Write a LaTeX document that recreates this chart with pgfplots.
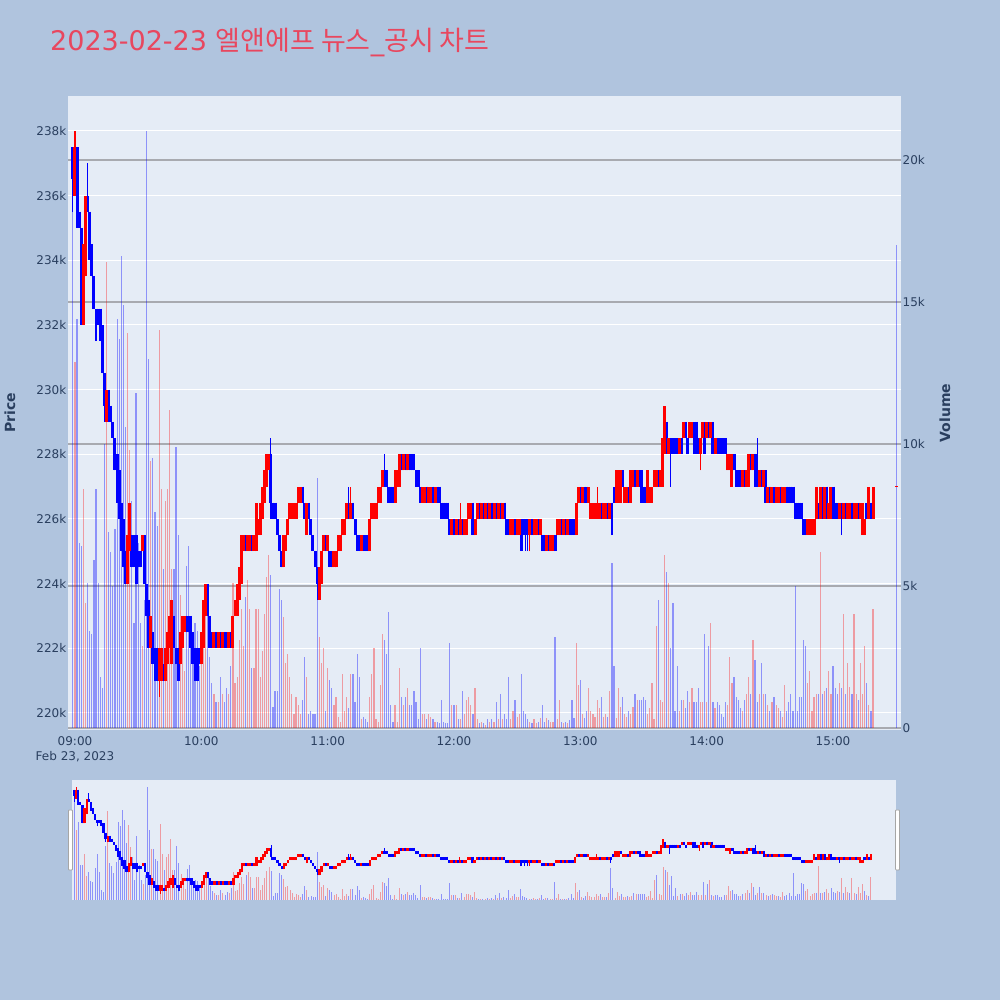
\documentclass[border=0pt]{standalone}
\usepackage{fontspec}
\setmainfont{DejaVu Sans}
\newfontfamily\kr{Noto Sans CJK KR}
\usepackage{pgfplots}
\pgfplotsset{compat=1.18}
\usepackage{pgfplotstable}
\definecolor{pagebg}{HTML}{B0C4DE}
\definecolor{plotbg}{HTML}{E5ECF6}
\definecolor{tickc}{HTML}{2A3F5F}
\definecolor{titlec}{HTML}{E8475F}
\definecolor{vgrid}{RGB}{168,170,176}
\definecolor{upc}{HTML}{FF0000}
\definecolor{dnc}{HTML}{0000FF}

\pgfplotstableread{
m o h l c v
-1 237.5 237.5 235.5 236.5 18.2
0 236 238 236 237.5 12.9
1 237.5 237.5 235 235 14.4
2 235.5 235.5 235 235 6.5
3 235 235 232 232 6.4
4 232 234.5 232 234.5 8.4
5 233.5 236 233.5 236 4.4
6 236 237 235.5 235.5 5.1
7 235.5 235.5 234 234 3.4
8 234.5 234.5 233.5 233.5 3.3
9 233.5 233.5 232.5 232.5 5.9
10 232.5 232.5 231.5 232 8.4
11 232.5 232.5 232 232 5.1
12 232.5 232.5 231.5 231.5 1.8
13 232 232 230.5 230.5 1.4
14 230.5 230.5 229 229.5 10
15 229 230 229 230 16.4
16 230 230 229 229 6.9
17 229.5 229.5 229 229 6.2
18 229 229 228.5 228.5 5
19 228.5 228.5 227.5 227.5 7
20 228 228 226.5 226.5 14.4
21 227.5 227.5 226 226 13.7
22 226.5 226.5 225 225 16.6
23 226 226 224.5 224.5 14.9
24 225 225 224 224 10.6
25 224 225.5 224 225.5 13.9
26 225 226.5 225 226.5 9.8
27 225.5 225.5 224.5 224.5 8
28 225.5 225.5 224.5 224.5 3.7
29 225.5 225.5 224 224 11.8
30 225 225 224.5 224.5 6.5
31 225 225 224.5 224.5 3.7
32 225 225.5 225 225.5 2.9
33 225.5 225.5 224 224 4.5
34 224 224 223 223 21
35 223.5 223.5 222 222 13
36 222 223 222 223 9.4
37 222.5 222.5 221.5 221.5 9.5
38 222 222 221 221 7.6
39 222 222 221 221 7.1
40 221 222 220.5 222 14
41 221 222 221 222 8.4
42 221.5 221.5 221 221 5.6
43 221 222 221 222 8
44 221.5 222.5 221.5 222.5 8.4
45 222 223 222 223 11.2
46 221.5 223.5 221.5 223.5 5.6
47 223 223 222 222 5.6
48 222 222 221.5 221.5 9.9
49 222 222 221 221 6.8
50 221.5 222.5 221.5 222.5 4.7
51 222 223 222 223 3.7
52 222.5 223 222.5 223 2
53 223 223 222.5 222.5 5.7
54 223 223 222.5 222.5 6.4
55 223 223 222 222 3.3
56 222.5 222.5 221.5 221.5 2.7
57 222 222 221 221 3.7
58 222 222 221 221 3.4
59 222 222 221.5 221.5 2.2
60 221.5 222.5 221.5 222.5 3
61 222 223.5 222 223.5 4.2
62 223 224 223 224 4.9
63 224 224 223 223 4.4
64 223 223 222 222 2.5
65 222.5 222.5 222 222 1.6
66 222 222.5 222 222.5 1.2
67 222.5 222.5 222 222 0.9
68 222 222.5 222 222.5 0.9
69 222.5 222.5 222 222 1.8
70 222 222.5 222 222.5 1.2
71 222.5 222.5 222 222 0.9
72 222.5 222.5 222 222 1.4
73 222 222.5 222 222.5 1.2
74 222.5 222.5 222 222 2.2
75 222 223 222 223 5.1
76 223 223.5 223 223.5 1.6
77 223 224 223 224 1.8
78 223.5 224.5 223.5 224.5 3.1
79 224 225.5 224 225.5 4.2
80 225 225.5 225 225.5 2.9
81 225.5 225.5 225 225 4.6
82 225 225.5 225 225.5 5.2
83 225 225.5 225 225.5 4.2
84 225.5 225.5 225 225 2.1
85 225 225.5 225 225.5 2.1
86 225 226.5 225 226.5 4.2
87 225.5 226 225.5 226 4.2
88 225.5 226.5 225.5 226.5 1.8
89 226 227 226 227 2.7
90 226.5 227.5 226.5 227.5 4
91 227 228 227 228 5.3
92 227.5 228 227.5 228 6.1
93 228 228.5 226 226.5 5.4
94 226.5 226.5 226 226 0.75
95 226.5 226.5 226 226 1.3
96 226 226 225.5 225.5 1.3
97 225.5 225.5 225 225 4.9
98 225 225 224.5 224.5 4.5
99 224.5 225.5 224.5 225.5 3.9
100 225 225.5 225 225.5 2.3
101 225.5 226 225.5 226 2.6
102 226 226.5 226 226.5 1.8
103 226 226.5 226 226.5 1.2
104 226 226.5 226 226.5 0.5
105 226 226.5 226 226.5 1.1
106 226.5 227 226.5 227 0.8
107 226.5 227 226.5 227 0.5
108 227 227 226.5 226.5 1
109 226.5 226.5 226 226 2.5
110 225.5 226.5 225.5 226.5 1.8
111 226.5 226.5 226 226 0.5
112 226 226 225.5 225.5 0.6
113 225.5 225.5 225 225 0.5
114 225 225 224.5 224.5 0.5
115 224.5 224.5 223.5 224 8.8
116 223.5 224.5 223.5 224.5 3.2
117 224 225 224 225 2.3
118 225 225.5 225 225.5 2.8
119 225.5 225.5 225 225 0.6
120 225 225.5 225 225.5 2.1
121 225 225 224.5 224.5 1.7
122 225 225 224.5 224.5 1.4
123 224.5 225 224.5 225 0.8
124 224.5 225 224.5 225 1.1
125 225 225.5 225 225.5 0.4
126 225 225.5 225 225.5 0.2
127 225.5 226 225.5 226 1.9
128 225.5 226 225.5 226 0.6
129 226 226.5 226 226.5 1.1
130 226.5 227 226 226 0.7
131 226 227 226 226.5 1.9
132 226.5 226.5 226 226 1.9
133 226 226 225.5 225.5 0.9
134 225.5 225.5 225 225 2.6
135 225.5 225.5 225 225 1.8
136 225 225.5 225 225.5 0.3
137 225.5 225.5 225 225 0.4
138 225.5 225.5 225 225 0.3
139 225.5 225.5 225 225 0.2
140 225 226 225 226 1.1
141 226 226.5 226 226.5 1.9
142 226 226.5 226 226.5 2.8
143 226 226.5 226 226.5 0.3
144 226.5 227 226.5 227 0.2
145 226.5 227 226.5 227 1.5
146 227 227.5 227 227.5 3.3
147 227.5 228 227 227 3.1
148 227.5 227.5 227 227 2.6
149 227 227 226.5 226.5 4.1
150 227 227 226.5 226.5 0.8
151 227 227 226.5 226.5 0.2
152 226.5 227.5 226.5 227.5 0.8
153 227 227.5 227 227.5 0.2
154 227 228 227 228 2.1
155 228 228 227.5 227.5 1.1
156 227.5 228 227.5 228 0.8
157 228 228 227.5 227.5 1.1
158 227.5 228 227.5 228 1.4
159 228 228 227.5 227.5 0.8
160 228 228 227.5 227.5 0.8
161 228 228 227.5 227.5 1.3
162 227.5 227.5 227 227 0.9
163 227.5 227.5 227 227 0.3
164 227 227 226.5 226.5 2.8
165 226.5 227 226.5 227 0.5
166 226.5 227 226.5 227 0.5
167 227 227 226.5 226.5 0.3
168 226.5 227 226.5 227 0.5
169 226.5 227 226.5 227 0.4
170 227 227 226.5 226.5 0.3
171 226.5 227 226.5 227 0.2
172 227 227 226.5 226.5 0.2
173 227 227 226.5 226.5 0.16
174 226.5 226.5 226 226 1
175 226.5 226.5 226 226 0.2
176 226.5 226.5 226 226 0.16
177 226.5 226.5 226 226 0.16
178 226 226 225.5 225.5 3
179 225.5 226 225.5 226 0.8
180 226 226 225.5 225.5 0.8
181 225.5 226 225.5 226 0.8
182 226 226 225.5 225.5 0.3
183 225.5 226.5 225.5 226 0.3
184 226 226 225.5 225.5 1.3
185 225.5 226 225.5 226 0.5
186 225.5 226 225.5 226 1
187 226 226.5 226 226.5 1.1
188 226 226.5 226 226.5 0.8
189 226.5 226.5 225.5 225.5 0.5
190 225.5 226 225.5 226 1.4
191 226 226.5 226 226.5 0.3
192 226.5 226.5 226 226 0.16
193 226 226.5 226 226.5 0.2
194 226.5 226.5 226 226 0.16
195 226 226.5 226 226.5 0.1
196 226.5 226.5 226 226 0.3
197 226 226.5 226 226.5 0.2
198 226.5 226.5 226 226 0.3
199 226 226.5 226 226.5 0.2
200 226.5 226.5 226 226 0.9
201 226 226.5 226 226.5 0.3
202 226.5 226.5 226 226 1.2
203 226 226.5 226 226.5 0.3
204 226.5 226.5 226 226 0.5
205 226 226 225.5 225.5 0.3
206 226 226 225.5 225.5 1.8
207 225.5 226 225.5 226 0.3
208 225.5 226 225.5 226 0.6
209 226 226 225.5 225.5 1
210 225.5 226 225.5 226 0.4
211 225.5 226 225.5 226 0.5
212 226 226 225 225 1.9
213 226 226 225.5 225.5 0.6
214 226 226 225 225.5 0.5
215 226 226 225 225.5 0.3
216 225.5 226 225 226 0.2
217 226 226 225.5 225.5 0.16
218 225.5 226 225.5 226 0.3
219 225.5 226 225.5 226 0.16
220 226 226 225.5 225.5 0.2
221 225.5 226 225.5 226 0.34
222 225.5 225.5 225 225 0.8
223 225.5 225.5 225 225 0.2
224 225 225.5 225 225.5 0.34
225 225.5 225.5 225 225 0.28
226 225 225.5 225 225.5 0.2
227 225 225.5 225 225.5 0.2
228 225.5 225.5 225 225 3.2
229 225.5 226 225.5 226 0.3
230 225.5 226 225.5 226 1
231 226 226 225.5 225.5 0.2
232 225.5 226 225.5 226 0.16
233 226 226 225.5 225.5 0.2
234 225.5 226 225.5 226 0.16
235 226 226 225.5 225.5 0.28
236 226 226 225.5 225.5 1
237 226 226 225.5 225.5 0.34
238 225.5 226.5 225.5 226.5 3
239 226.5 227 226.5 227 1.5
240 227 227 226.5 226.5 1.7
241 226.5 227 226.5 227 0.5
242 227 227 226.5 226.5 0.34
243 227 227 226.5 226.5 0.6
244 226.5 227 226.5 227 1.4
245 226 226.5 226 226.5 0.6
246 226 226.5 226 226.5 0.5
247 226 226.5 226 226.5 0.4
248 226 227 226 226.5 1
249 226 226.5 226 226.5 0.7
250 226.5 226.5 226 226 1.1
251 226 226.5 226 226.5 0.4
252 226 226.5 226 226.5 0.5
253 226.5 226.5 226 226 0.4
254 226 226.5 226 226.5 1.3
255 226.5 226.5 225.5 226 5.8
256 227 227 226.5 226.5 2.2
257 226.5 227.5 226.5 227.5 0.34
258 226.5 227.5 226.5 227.5 1.4
259 226.5 227.5 226.5 227.5 0.75
260 227.5 227.5 227 227 1.1
261 226.5 227 226.5 227 0.5
262 226.5 227 226.5 227 0.4
263 227 227 226.5 226.5 0.6
264 226.5 227.5 226.5 227.5 0.5
265 227 227.5 227 227.5 0.75
266 227.5 227.5 227 227 1.2
267 227 227.5 227 227.5 1
268 227.5 227.5 227 227 1
269 227.5 227.5 226.5 226.5 1
270 227 227 226.5 226.5 1.1
271 227 227 226.5 226.5 1
272 226.5 227.5 226.5 227.5 0.5
273 226.5 227 226.5 227 0.7
274 226.5 227 226.5 227 1.6
275 227 227.5 227 227.5 0.3
276 227 227.5 227 227.5 3.6
277 227.5 227.5 227 227 4.5
278 227 227.5 227 227.5 1
279 227 228.5 227 228.5 0.9
280 228 229.5 228 229.5 6.1
281 229 229 228 228 5.5
282 228 228.5 228 228.5 5.1
283 228.5 228.5 227 228 2.8
284 228.5 228.5 228 228 4.4
285 228.5 228.5 228 228 0.6
286 228.5 228.5 228 228 2.2
287 228 228.5 228 228.5 0.6
288 228.5 228.5 228 228 1
289 228.5 229 228.5 229 1
290 229 229 228.5 228.5 0.7
291 228.5 228.5 228 228 1.3
292 228.5 229 228.5 229 0.9
293 228.5 229 228.5 229 1.4
294 229 229 228 228 0.9
295 229 229 228 228 0.9
296 228.5 228.5 228 228 1.4
297 228 228.5 227.5 228.5 0.9
298 228.5 229 228.5 229 0.9
299 229 229 228 228 3.3
300 228.5 229 228.5 229 0.9
301 229 229 228.5 228.5 2.9
302 228.5 229 228.5 229 3.7
303 229 229 228 228 0.9
304 228 228.5 228 228.5 0.7
305 228.5 228.5 228 228 0.9
306 228.5 228.5 228 228 0.8
307 228.5 228.5 228 228 0.5
308 228.5 228.5 228 228 0.4
309 228.5 228.5 228 228 0.9
310 227.5 228 227.5 228 0.8
311 227.5 228 227.5 228 2.5
312 227 228 227 228 1.6
313 228 228 227.5 227.5 1.8
314 227.5 227.5 227 227 1.1
315 227.5 227.5 227 227 1
316 227.5 227.5 227 227 0.7
317 227 227.5 227 227.5 0.6
318 227.5 227.5 227 227 1
319 227 227.5 227 227.5 1.2
320 227 228 227 228 1.8
321 228 228 227.5 227.5 1.2
322 227.5 228 227.5 228 3.1
323 228 228 227 227 2.4
324 227.5 228.5 227 227 0.9
325 227 227.5 227 227.5 1.2
326 227.5 227.5 227 227 2.3
327 227 227.5 227 227.5 1.2
328 227.5 227.5 226.5 226.5 1.2
329 226.5 227 226.5 227 0.8
330 227 227 226.5 226.5 0.6
331 226.5 227 226.5 227 0.9
332 227 227 226.5 226.5 1.1
333 226.5 227 226.5 227 0.8
334 226.5 227 226.5 227 0.7
335 227 227 226.5 226.5 0.6
336 226.5 227 226.5 227 0.4
337 226.5 227 226.5 227 1.5
338 227 227 226.5 226.5 0.6
339 227 227 226.5 226.5 0.9
340 227 227 226.5 226.5 1.2
341 227 227 226.5 226.5 0.6
342 226.5 226.5 226 226 5
343 226.5 226.5 226 226 0.6
344 226.5 226.5 226 226 1.1
345 226.5 226.5 226 226 1.1
346 226 226 225.5 225.5 3.1
347 226 226 225.5 225.5 2.9
348 225.5 226 225.5 226 1.6
349 225.5 226 225.5 226 2
350 225.5 226 225.5 226 0.6
351 225.5 226 225.5 226 1.1
352 226 227 226 227 1.2
353 226.5 226.5 226 226 1.2
354 226 227 226 227 6.2
355 227 227 226 226 1.2
356 226 227 226 227 1.3
357 227 227 226 226 1.4
358 226 226.5 226 226.5 2
359 226 227 226 227 1.2
360 227 227 226 226 2.2
361 226.5 226.5 226 226 1.4
362 226.5 226.5 226 226 1.2
363 226 226.5 226 226.5 1.6
364 226.5 226.5 225.5 226 1.4
365 226 226.5 226 226.5 4
366 226.5 226.5 226 226 1.2
367 226 226.5 226 226.5 2.3
368 226 226.5 226 226.5 1.45
369 226.5 226.5 226 226 1.2
370 226 226.5 226 226.5 4
371 226 226.5 226 226.5 1.2
372 226.5 226.5 226 226 1
373 226 226.5 226 226.5 2.3
374 225.5 226.5 225.5 226.5 1.2
375 225.5 226 225.5 226 2.9
376 226.5 226.5 226 226 1.6
377 226 227 226 227 0.8
378 226.5 226.5 226 226 0.6
379 226 227 226 227 4.2
}\candles

% collect candle segments into single paths (one per colour)
\pgfplotstablegetrowsof{\candles}
\pgfmathtruncatemacro\Nlast{\pgfplotsretval-1}
\gdef\upbody{}\gdef\dnbody{}\gdef\upwick{}\gdef\dnwick{}
\foreach \i in {0,...,\Nlast}{%
  \pgfplotstablegetelem{\i}{m}\of\candles\let\vm\pgfplotsretval
  \pgfplotstablegetelem{\i}{o}\of\candles\let\vo\pgfplotsretval
  \pgfplotstablegetelem{\i}{h}\of\candles\let\vh\pgfplotsretval
  \pgfplotstablegetelem{\i}{l}\of\candles\let\vl\pgfplotsretval
  \pgfplotstablegetelem{\i}{c}\of\candles\let\vc\pgfplotsretval
  \pgfmathtruncatemacro\isup{\vc>=\vo}%
  \ifnum\isup=1
    \xdef\upbody{\upbody(\vm,\vo)(\vm,\vc)(\vm,nan)}%
    \xdef\upwick{\upwick(\vm,\vl)(\vm,\vh)(\vm,nan)}%
  \else
    \xdef\dnbody{\dnbody(\vm,\vo)(\vm,\vc)(\vm,nan)}%
    \xdef\dnwick{\dnwick(\vm,\vl)(\vm,\vh)(\vm,nan)}%
  \fi
}

\pgfplotsset{
  mainpos/.style={at={(68pt,270pt)}, anchor=south west, scale only axis,
    width=833pt, height=634pt, xmin=-3.32, xmax=392.3},
  slidepos/.style={at={(72pt,100pt)}, anchor=south west, scale only axis,
    width=824pt, height=120pt, xmin=-2, xmax=391},
  pricey/.style={ymin=219.47, ymax=239.08},
  voly/.style={ymin=-0.07, ymax=22.25},
  upsel/.style={restrict expr to domain={\thisrow{c}-\thisrow{o}}{0:100}},
  dnsel/.style={restrict expr to domain={\thisrow{c}-\thisrow{o}}{-100:-0.01}},
}

\newcommand{\volplots}[1]{%
  \addplot[ycomb, draw=dnc, draw opacity=0.38, line width=#1, dnsel] table[x=m,y=v]{\candles};
  \addplot[ycomb, draw=upc, draw opacity=0.34, line width=#1, upsel] table[x=m,y=v]{\candles};
}
\newcommand{\candleplots}[2]{%
  \edef\tmpplot{\noexpand\addplot[draw=dnc, line width=#2, mark=none, unbounded coords=jump] coordinates {\dnwick};}\tmpplot
  \edef\tmpplot{\noexpand\addplot[draw=upc, line width=#2, mark=none, unbounded coords=jump] coordinates {\upwick};}\tmpplot
  \edef\tmpplot{\noexpand\addplot[draw=dnc, line width=#1, mark=none, unbounded coords=jump] coordinates {\dnbody};}\tmpplot
  \edef\tmpplot{\noexpand\addplot[draw=upc, line width=#1, mark=none, unbounded coords=jump] coordinates {\upbody};}\tmpplot
}

\begin{document}
\begin{tikzpicture}[x=1pt,y=1pt]
\useasboundingbox (0,0) rectangle (1000,1000);
\fill[pagebg] (0,0) rectangle (1000,1000);

% title
\node[anchor=base west, inner sep=0pt, text=titlec, font=\fontsize{27}{32}\selectfont]
  at (50,949) {2023-02-23 {\kr 엘앤에프 뉴스}\_{\kr 공시 차트}};

% axis titles
\node[rotate=90, text=tickc, font=\fontsize{14}{16}\selectfont\bfseries] at (10,587) {Price};
\node[rotate=90, text=tickc, font=\fontsize{14}{16}\selectfont\bfseries] at (945,587) {Volume};

% A: background, price grid and labels
\begin{axis}[mainpos, pricey,
  axis line style={draw=none}, axis background/.style={fill=plotbg},
  ymajorgrids, major grid style={white, line width=1pt},
  major tick length=0pt,
  ytick={220,222,224,226,228,230,232,234,236,238},
  yticklabels={220k,222k,224k,226k,228k,230k,232k,234k,236k,238k},
  xtick={0,60,120,180,240,300,360},
  xticklabels={{09:00\\Feb 23, 2023},10:00,11:00,12:00,13:00,14:00,15:00},
  tick label style={font=\fontsize{12}{15}\selectfont, text=tickc},
  yticklabel style={inner sep=1.5pt},
  xticklabel style={align=center, inner sep=2pt, anchor=north, yshift=-4pt},
]
\end{axis}

% B: volume
\begin{axis}[mainpos, voly,
  axis line style={draw=none},
  yticklabel pos=right,
  ymajorgrids, major grid style={vgrid, line width=1.5pt},
  major tick length=0pt,
  ytick={5,10,15,20}, yticklabels={5k,10k,15k,20k},
  extra y ticks={0}, extra y tick labels={0},
  extra y tick style={grid style={white, line width=2pt}},
  xtick=\empty,
  tick label style={font=\fontsize{12}{15}\selectfont, text=tickc},
  yticklabel style={inner sep=1.5pt},
]
\volplots{1.2pt}
\addplot[ycomb, draw=dnc, draw opacity=0.38, line width=1.2pt] coordinates {(390,17)};
\end{axis}

% C: candles
\begin{axis}[mainpos, pricey, hide axis]
\candleplots{3pt}{1.2pt}
\addplot[only marks, mark=-, mark size=1.4pt, draw=upc, line width=1.5pt] coordinates {(390,227)};
\end{axis}

% range slider
\begin{axis}[slidepos, voly, hide x axis, hide y axis, axis background/.style={fill=plotbg}]
\volplots{1pt}
\end{axis}
\begin{axis}[slidepos, pricey, hide axis]
\candleplots{2.2pt}{0.8pt}
\end{axis}

% slider handles
\draw[fill=white, draw=gray!70, line width=0.8pt, rounded corners=0.8pt] (68.5,130) rectangle (72.5,190);
\draw[fill=white, draw=gray!70, line width=0.8pt, rounded corners=0.8pt] (895.5,130) rectangle (899.5,190);
\end{tikzpicture}
\end{document}
